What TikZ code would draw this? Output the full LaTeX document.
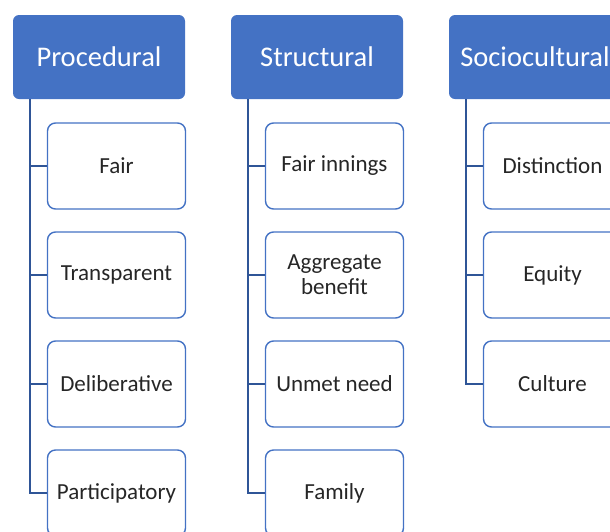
\documentclass[tikz,border=0pt]{standalone}
\usepackage{fontspec}
\setmainfont{Carlito}
\definecolor{hdrblue}{HTML}{4472C4}
\definecolor{linkblue}{HTML}{2F5597}
\begin{document}
\begin{tikzpicture}[x=1pt,y=-1pt]

        \useasboundingbox (0,0) rectangle (610,531);

        \begin{scope}[every node/.style={rectangle,rounded corners=6pt,fill=hdrblue,text=white,
            minimum width=172pt,minimum height=84pt,font=\fontsize{28.5}{32}\selectfont}]
          \node (proc) at (99,57)  {Procedural};
          \node (stru) at (317,57) {Structural};
          \node (soci) at (535,57) {Sociocultural};
        \end{scope}

        \begin{scope}[every node/.style={rectangle,rounded corners=8pt,draw=hdrblue,line width=1.4pt,
            fill=white,text=black!85,minimum width=138pt,minimum height=86pt,align=center,
            font=\fontsize{23}{25}\selectfont}]
          \node (p1) at (116.5,166) {Fair};
          \node (p2) at (116.5,275) {Transparent};
          \node (p3) at (116.5,384) {Deliberative};
          \node (p4) at (116.5,493) {Participatory};
          \node (s1) at (334.5,166) {Fair innings};
          \node (s2) at (334.5,275) {Aggregate\\benefit};
          \node (s3) at (334.5,384) {Unmet need};
          \node (s4) at (334.5,493) {Family};
          \node (c1) at (552.5,166) {Distinction};
          \node (c2) at (552.5,275) {Equity};
          \node (c3) at (552.5,384) {Culture};
        \end{scope}

        \begin{scope}[every path/.style={draw=linkblue,line width=2pt}]
          \draw ([xshift=17pt]proc.south west) |- (p1.west);
          \draw ([xshift=17pt]proc.south west) |- (p2.west);
          \draw ([xshift=17pt]proc.south west) |- (p3.west);
          \draw ([xshift=17pt]proc.south west) |- (p4.west);
          \draw ([xshift=17pt]stru.south west) |- (s1.west);
          \draw ([xshift=17pt]stru.south west) |- (s2.west);
          \draw ([xshift=17pt]stru.south west) |- (s3.west);
          \draw ([xshift=17pt]stru.south west) |- (s4.west);
          \draw ([xshift=17pt]soci.south west) |- (c1.west);
          \draw ([xshift=17pt]soci.south west) |- (c2.west);
          \draw ([xshift=17pt]soci.south west) |- (c3.west);
        \end{scope}

      \end{tikzpicture}
\end{document}
